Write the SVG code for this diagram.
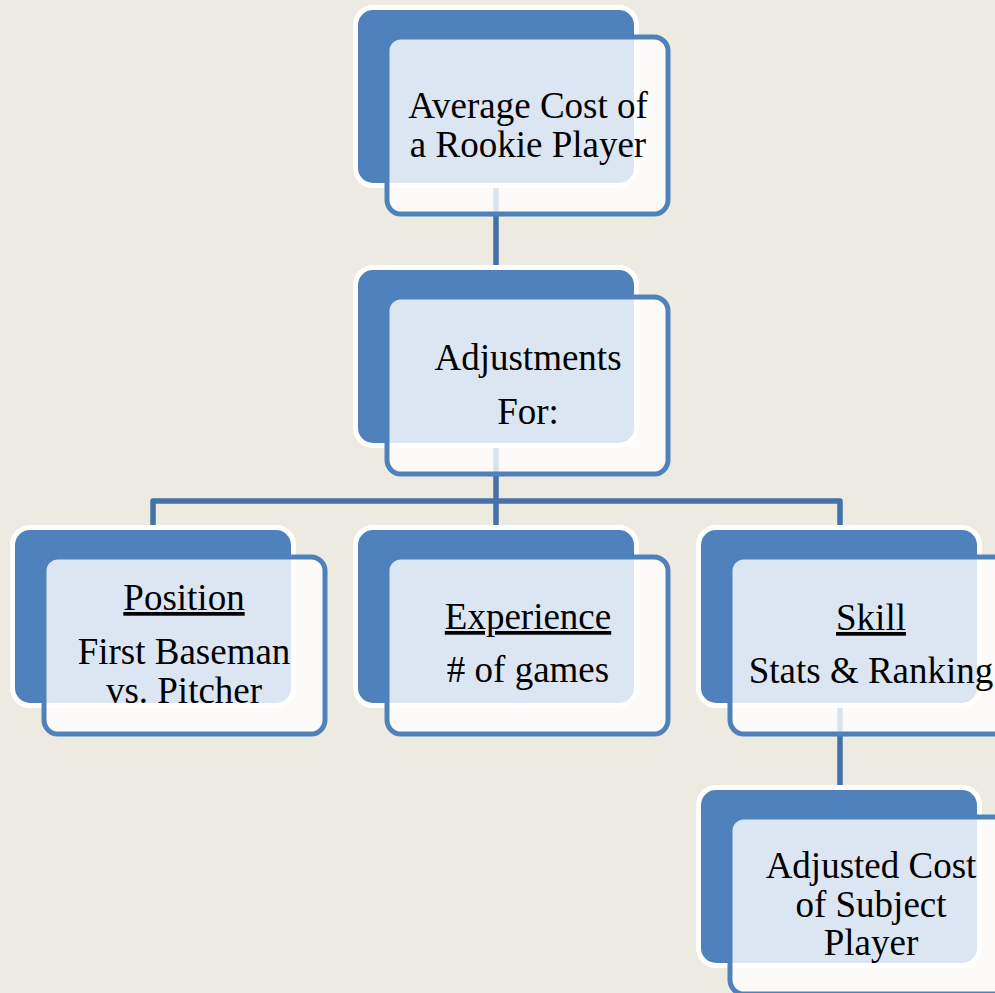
<svg xmlns="http://www.w3.org/2000/svg" width="995" height="993" viewBox="0 0 995 993">
  <style>
    .back { fill: #4f81bd; stroke: #ffffff; stroke-width: 10; paint-order: stroke; }
    .front { fill: #ffffff; fill-opacity: 0.8; stroke: #4f81bd; stroke-width: 5; }
    .wire { fill: none; stroke: #4472a8; stroke-width: 5.5; stroke-linejoin: round; }
    .lbl { font-family: "Liberation Serif", "Times New Roman", serif; font-size: 37px; fill: #000000; text-anchor: middle; }
    .ul { text-decoration: underline; }
  </style>
  <rect x="0" y="0" width="995" height="993" fill="#edebe1"/>

  <!-- connectors -->
  <g id="connectors">
    <path class="wire" d="M496,180 V300"/>
    <path class="wire" d="M496,440 V530"/>
    <path class="wire" d="M153,530 V501 H840 V530"/>
    <path class="wire" d="M840,700 V790"/>
  </g>

  <!-- top node -->
  <g id="node-average-cost">
    <rect class="back" x="358" y="10" width="276" height="173" rx="15"/>
    <rect class="front" x="387" y="37" width="281" height="177" rx="14"/>
    <text class="lbl" x="528" y="118">Average Cost of</text>
    <text class="lbl" x="528" y="157">a Rookie Player</text>
  </g>

  <g id="node-adjustments">
    <rect class="back" x="358" y="270" width="276" height="173" rx="15"/>
    <rect class="front" x="387" y="297" width="281" height="177" rx="14"/>
    <text class="lbl" x="528" y="370">Adjustments</text>
    <text class="lbl" x="528" y="424">For:</text>
  </g>

  <g id="node-position">
    <rect class="back" x="15" y="530" width="276" height="173" rx="15"/>
    <rect class="front" x="44" y="557" width="281" height="177" rx="14"/>
    <text class="lbl ul" x="184" y="610">Position</text>
    <text class="lbl" x="184" y="664">First Baseman</text>
    <text class="lbl" x="184" y="703">vs. Pitcher</text>
  </g>

  <g id="node-experience">
    <rect class="back" x="358" y="530" width="276" height="173" rx="15"/>
    <rect class="front" x="387" y="557" width="281" height="177" rx="14"/>
    <text class="lbl ul" x="528" y="629">Experience</text>
    <text class="lbl" x="528" y="682"># of games</text>
  </g>

  <g id="node-skill">
    <rect class="back" x="701" y="530" width="276" height="173" rx="15"/>
    <rect class="front" x="730" y="557" width="281" height="177" rx="14"/>
    <text class="lbl ul" x="871" y="630">Skill</text>
    <text class="lbl" x="871" y="683">Stats &amp; Ranking</text>
  </g>

  <g id="node-adjusted-cost">
    <rect class="back" x="701" y="790" width="276" height="173" rx="15"/>
    <rect class="front" x="730" y="817" width="281" height="177" rx="14"/>
    <text class="lbl" x="871" y="878">Adjusted Cost</text>
    <text class="lbl" x="871" y="917">of Subject</text>
    <text class="lbl" x="871" y="955">Player</text>
  </g>
</svg>
